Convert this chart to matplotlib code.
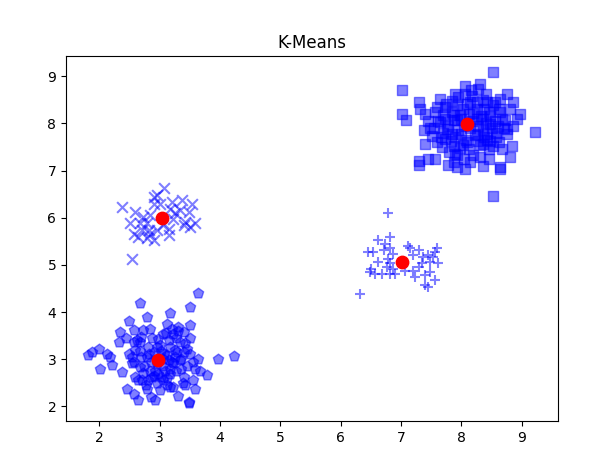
import numpy as np
import matplotlib
matplotlib.use('Agg')
import matplotlib.pyplot as plt

# cluster points (x, y)
squares = [
    (8.53, 9.08), (7.01, 8.70), (7.01, 8.20), (7.09, 8.06), (7.29, 8.45), (7.31, 8.31),
    (7.40, 8.20), (7.65, 8.52), (7.84, 8.48), (8.06, 8.80), (8.06, 8.62), (7.56, 8.24),
    (7.73, 8.34), (7.92, 8.38), (7.51, 7.74), (7.40, 7.56), (7.59, 7.60), (7.73, 7.67),
    (7.87, 7.53), (7.89, 7.35), (7.87, 7.18), (7.29, 7.21), (7.29, 7.11), (7.45, 7.25),
    (7.56, 7.25), (7.78, 7.11), (7.92, 7.07), (8.06, 7.03), (7.65, 8.02), (7.76, 7.88),
    (7.92, 8.06), (7.70, 8.17), (7.87, 8.17), (8.09, 7.60), (8.00, 7.78), (8.14, 8.45),
    (8.31, 8.84), (8.28, 8.73), (8.75, 8.62), (8.86, 8.45), (8.80, 8.31), (8.97, 8.20),
    (9.22, 7.81), (8.64, 8.52), (8.53, 8.38), (8.42, 8.45), (8.45, 8.24), (8.64, 8.24),
    (8.72, 8.06), (8.75, 7.88), (8.61, 7.95), (8.47, 7.99), (8.36, 8.10), (8.75, 7.78),
    (8.83, 7.53), (8.80, 7.28), (8.67, 7.46), (8.53, 7.53), (8.36, 7.56), (8.31, 7.28),
    (8.20, 7.32), (8.64, 7.07), (8.64, 7.03), (8.53, 6.47), (8.25, 7.78), (8.42, 7.78),
    (8.58, 7.71), (8.25, 8.45),
    (7.62, 8.05), (7.70, 7.80), (7.78, 7.95), (7.85, 8.25), (7.90, 7.70), (7.95, 7.85),
    (8.00, 8.10), (8.02, 8.30), (8.08, 7.65), (8.12, 8.20), (8.15, 7.90), (8.18, 8.05),
    (8.22, 7.75), (8.25, 8.30), (8.28, 7.95), (8.32, 8.15), (8.35, 7.85), (8.40, 8.00),
    (8.42, 7.65), (8.48, 8.15), (8.50, 7.90), (8.55, 8.05), (8.58, 7.80), (8.62, 8.30),
    (7.68, 7.50), (7.80, 7.40), (7.98, 7.48), (8.12, 7.45), (8.30, 7.55), (8.45, 7.45),
    (7.60, 8.35), (7.75, 8.40), (7.95, 8.55), (8.18, 8.58), (8.35, 8.50), (8.55, 8.45),
    (8.68, 8.10), (8.70, 7.90), (7.55, 7.90), (7.88, 8.08), (8.05, 7.95), (8.25, 8.10),
    (8.10, 8.40), (7.72, 8.10), (8.38, 7.72), (7.93, 7.32), (8.05, 7.25), (8.45, 7.25),
    (8.62, 7.60), (7.48, 7.90),
    (7.82, 7.62), (7.98, 8.18), (8.20, 8.22), (8.38, 8.30), (8.02, 7.55), (8.28, 7.62),
    (7.66, 7.70), (7.84, 7.78), (8.48, 7.62), (8.16, 8.70), (7.90, 8.62), (8.40, 8.62),
    (7.45, 8.05), (7.38, 7.85), (8.85, 7.95), (8.92, 8.10), (8.15, 7.18), (8.35, 7.10),
]

pluses = [
    (6.79, 6.09), (6.82, 5.59), (6.62, 5.52), (6.73, 5.45), (6.46, 5.27), (6.54, 5.27),
    (6.71, 5.31), (6.82, 5.35), (6.87, 5.24), (6.79, 5.13), (7.12, 5.41), (7.15, 5.35),
    (7.29, 5.31), (7.20, 5.20), (7.37, 5.17), (7.45, 5.20), (7.56, 5.27), (7.59, 5.35),
    (7.53, 5.17), (7.34, 5.03), (7.48, 5.06), (7.62, 5.03), (7.29, 4.96), (6.62, 5.06),
    (6.76, 4.96), (6.87, 4.92), (6.51, 4.92), (6.49, 4.85), (6.57, 4.81), (6.68, 4.81),
    (6.82, 4.81), (6.90, 4.81), (7.07, 4.88), (7.20, 4.88), (7.23, 4.74), (7.40, 4.78),
    (7.48, 4.85), (7.56, 4.67), (7.45, 4.53), (7.40, 4.57), (6.32, 4.39), (6.82, 5.03),
]

crosses = [
    (3.07, 6.62), (2.96, 6.48), (2.38, 6.23), (2.60, 6.12), (2.90, 6.30), (3.01, 6.30),
    (3.20, 6.33), (3.37, 6.37), (3.53, 6.30), (3.18, 6.19), (3.34, 6.16), (3.48, 6.12),
    (2.73, 6.02), (2.84, 6.05), (2.51, 5.88), (2.68, 5.88), (2.79, 5.88), (3.23, 5.98),
    (3.42, 5.91), (3.59, 5.88), (3.51, 5.80), (3.40, 5.84), (2.57, 5.66), (2.71, 5.73),
    (2.82, 5.73), (2.96, 5.73), (3.15, 5.77), (3.06, 5.84), (2.65, 5.59), (2.79, 5.56),
    (2.90, 5.52), (3.15, 5.63), (2.84, 5.66), (2.54, 5.13), (2.90, 6.44), (3.26, 6.09),
]

pentagons = [
    (2.68, 4.19), (2.79, 3.89), (2.49, 3.82), (2.35, 3.58), (2.32, 3.36), (2.57, 3.61),
    (2.73, 3.61), (2.84, 3.65), (1.82, 3.08), (1.88, 3.15), (1.99, 3.22), (2.13, 3.12),
    (2.18, 3.05), (2.02, 2.80), (2.21, 2.87), (2.38, 2.73), (2.49, 3.12), (2.57, 3.36),
    (2.68, 3.36), (2.54, 2.91), (2.68, 2.83), (2.60, 2.62), (2.71, 2.55), (2.46, 2.37),
    (2.57, 2.27), (2.65, 2.13), (2.93, 2.13), (2.79, 2.37), (2.87, 2.62), (2.79, 3.05),
    (2.84, 2.76), (2.96, 3.26), (2.98, 2.69),
    (3.63, 4.40), (3.51, 4.11), (3.18, 3.97), (3.12, 3.75), (3.31, 3.68), (3.51, 3.72),
    (3.06, 3.54), (3.23, 3.54), (3.40, 3.58), (3.51, 3.44), (3.34, 3.36), (3.45, 3.22),
    (3.18, 3.26), (3.29, 3.15), (3.12, 3.08), (3.34, 2.98), (3.23, 2.91), (3.63, 3.01),
    (3.96, 3.01), (4.24, 3.06), (3.59, 2.80), (3.67, 2.76), (3.78, 2.66), (3.56, 2.55),
    (3.42, 2.45), (3.59, 2.37), (3.31, 2.23), (3.48, 2.09), (3.48, 2.08), (3.18, 2.69),
    (3.06, 2.55), (3.18, 2.41), (3.40, 2.62), (3.09, 2.76),
    (2.60, 3.20), (2.70, 3.05), (2.75, 2.85), (2.80, 3.25), (2.85, 2.95), (2.90, 3.15),
    (2.92, 2.75), (3.00, 3.30), (3.05, 2.85), (3.08, 3.10), (3.12, 2.60), (3.15, 3.40),
    (3.20, 2.95), (3.25, 3.20), (3.28, 2.75), (3.35, 3.00), (3.38, 2.50), (3.42, 3.35),
    (2.65, 2.55), (2.78, 2.45), (2.95, 2.50), (3.00, 2.35), (2.88, 3.45), (2.70, 3.48),
    (3.10, 3.55), (3.30, 3.60), (2.58, 2.95), (2.62, 3.40), (3.45, 2.85), (3.50, 3.10),
    (3.22, 2.40), (2.85, 2.20), (3.05, 3.00), (2.90, 2.65), (3.18, 2.80),
    (2.82, 3.10), (2.95, 2.90), (3.02, 3.18), (3.15, 2.98), (3.25, 3.05), (2.72, 2.70),
    (2.98, 3.42), (3.35, 2.80), (2.55, 3.05), (3.12, 2.45), (3.28, 3.45), (2.80, 2.55),
    (3.40, 3.15), (2.68, 3.18), (3.02, 2.62), (3.20, 3.65), (2.45, 3.45), (3.55, 2.95),
]

centers_x = [8.09, 7.01, 3.04, 2.98]
centers_y = [7.98, 5.05, 6.00, 2.99]

clusters = [(squares, 's'), (pluses, '+'), (crosses, 'x'), (pentagons, 'p')]

fig = plt.figure(figsize=(6.13, 4.61), dpi=100)
ax = fig.add_axes([0.1077, 0.0868, 0.8026, 0.792])

for pts, mk in clusters:
    pts = np.array(pts)
    ax.scatter(pts[:, 0], pts[:, 1], marker=mk, s=60, c='b', alpha=0.5)

ax.scatter(centers_x, centers_y, marker='o', s=80, c='r')

ax.set_xlim(1.45, 9.6)
ax.set_ylim(1.69, 9.43)
ax.set_title('K-Means')

fig.savefig('out.png', dpi=100)
